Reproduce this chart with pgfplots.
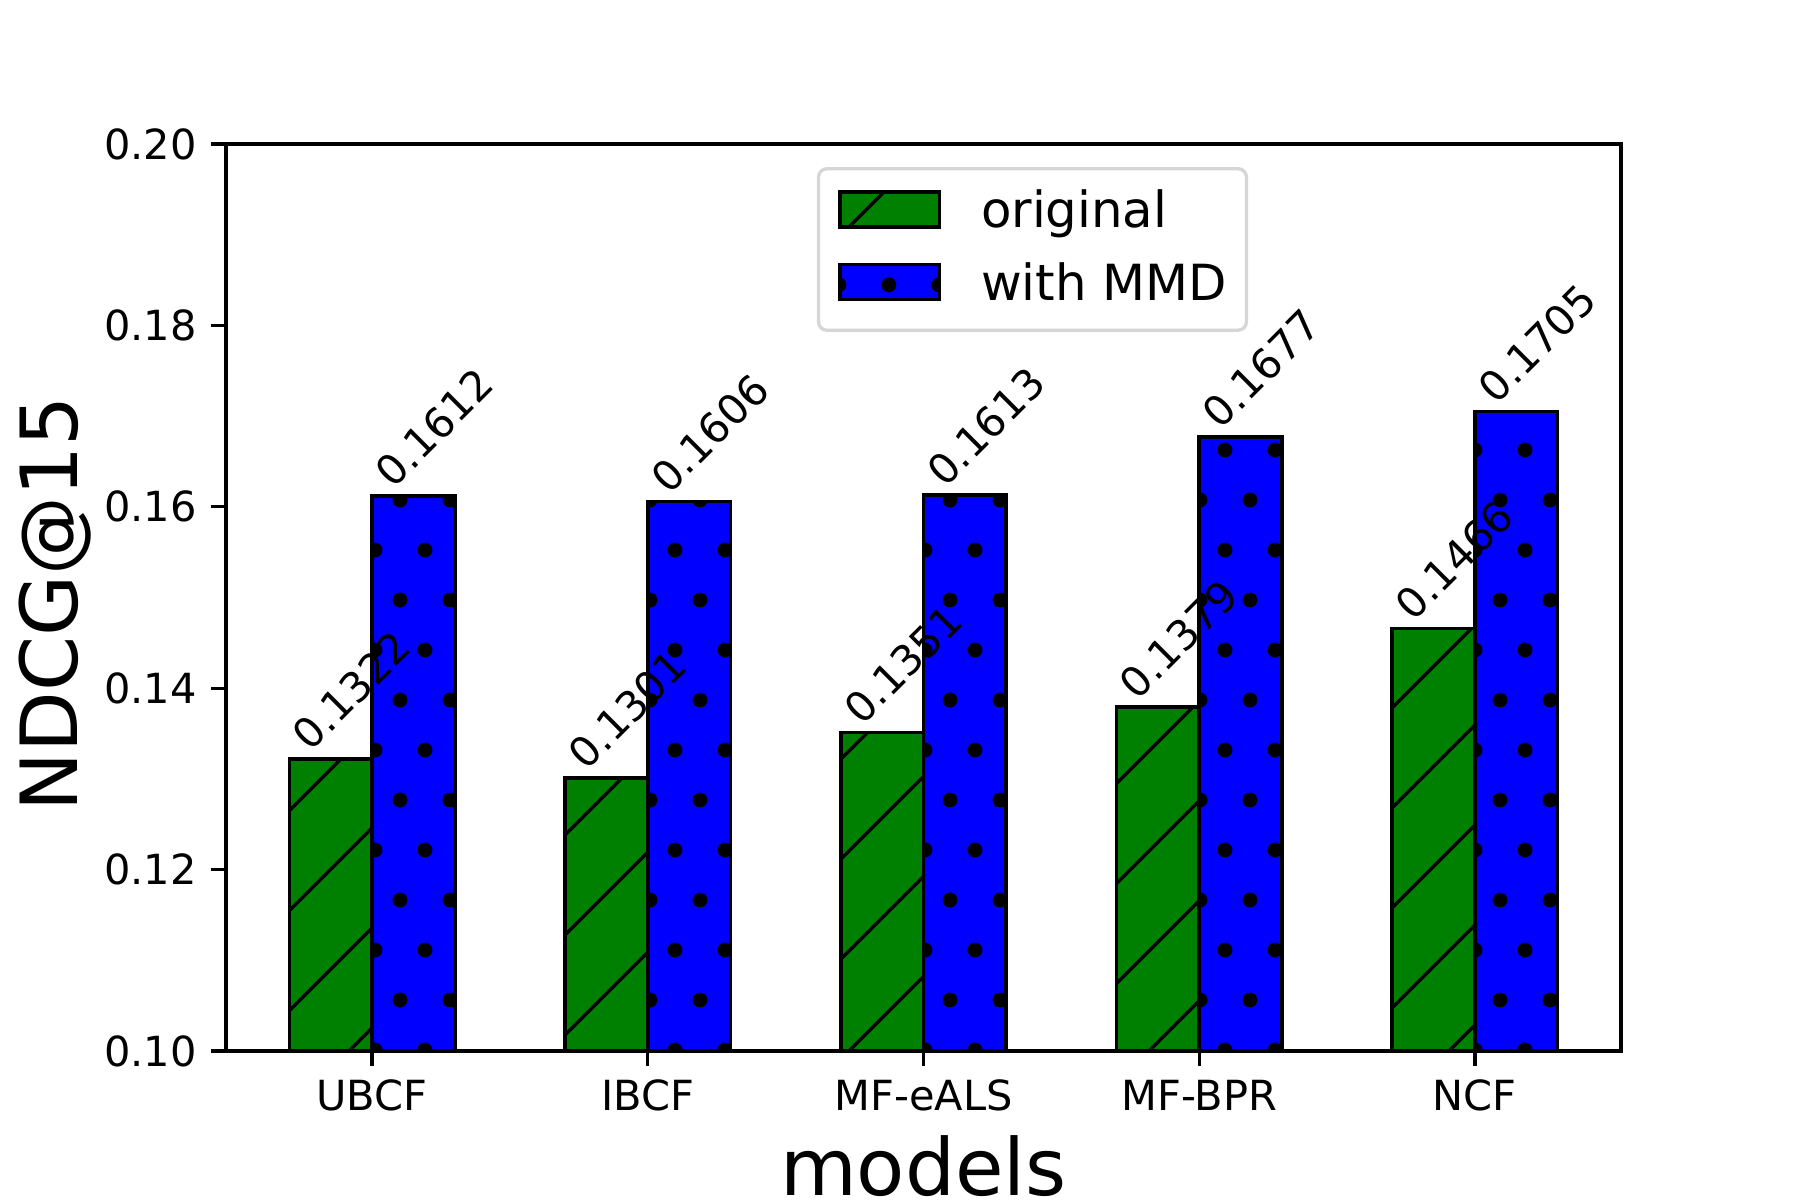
\documentclass[border=0pt]{standalone}
\usepackage{fontspec}
\setmainfont{DejaVu Sans}
\usepackage{pgfplots}
\pgfplotsset{compat=1.18}
\usepackage{pgfplotstable}

\definecolor{mplgreen}{HTML}{008000}
\definecolor{mplblue}{HTML}{0000FF}
\definecolor{legendgray}{HTML}{D6D6D6}

% page offset of the axis lower-left corner (pt)
\def\axpagex{54.44}
\def\axpagey{35.9}

\newcommand{\getphase}{%
  \pgfplotspointdescriptionxy{0}{0}\pgfgetlastxy{\axx}{\axy}%
  \pgfmathsetmacro{\ox}{\axx-\axpagex}%
  \pgfmathsetmacro{\oy}{\axy-\axpagey}%
}

\newcommand{\hatchlines}{%
  \getphase
  \pgfpointanchor{path picture bounding box}{south west}\pgfgetlastxy{\hxa}{\hya}%
  \pgfpointanchor{path picture bounding box}{north east}\pgfgetlastxy{\hxb}{\hyb}%
  \pgfmathsetmacro{\hph}{\oy-\ox}%
  \pgfmathtruncatemacro{\kmin}{floor((\hya-\hxb-\hph)/24.09)-1}%
  \pgfmathtruncatemacro{\kmax}{ceil((\hyb-\hxa-\hph)/24.09)+1}%
  \pgfmathsetmacro{\xs}{\hxa-3}%
  \pgfmathsetmacro{\xe}{\hxb+3}%
  \pgfsetlinewidth{0.8pt}\pgfsetstrokecolor{black}%
  \foreach \k in {\kmin,...,\kmax}{%
    \pgfmathsetmacro{\ys}{\xs+24.09*\k+\hph}%
    \pgfmathsetmacro{\ye}{\xe+24.09*\k+\hph}%
    \pgfpathmoveto{\pgfpoint{\xs pt}{\ys pt}}%
    \pgfpathlineto{\pgfpoint{\xe pt}{\ye pt}}%
    \pgfusepath{stroke}%
  }%
}

\newcommand{\hatchdots}{%
  \getphase
  \pgfpointanchor{path picture bounding box}{south west}\pgfgetlastxy{\hxa}{\hya}%
  \pgfpointanchor{path picture bounding box}{north east}\pgfgetlastxy{\hxb}{\hyb}%
  \pgfmathtruncatemacro{\imin}{floor((\hxa-\ox)/12.045)-1}%
  \pgfmathtruncatemacro{\imax}{ceil((\hxb-\ox)/12.045)+1}%
  \pgfmathtruncatemacro{\jmin}{floor((\hya-\oy)/24.09)-1}%
  \pgfmathtruncatemacro{\jmax}{ceil((\hyb-\oy)/24.09)+1}%
  \pgfsetfillcolor{black}%
  \foreach \i in {\imin,...,\imax}{%
    \foreach \j in {\jmin,...,\jmax}{%
      \pgfmathsetmacro{\px}{12.045*\i+\ox}%
      \pgfmathsetmacro{\py}{24.09*\j+\oy}%
      \pgfmathsetmacro{\qx}{\px+6.0225}%
      \pgfmathsetmacro{\qy}{\py+12.045}%
      \pgfpathcircle{\pgfpoint{\px pt}{\py pt}}{1.8pt}%
      \pgfpathcircle{\pgfpoint{\qx pt}{\qy pt}}{1.8pt}%
      \pgfusepath{fill}%
    }%
  }%
}

\pgfplotstableread{
x orig mmd
0 0.1322 0.1612
1 0.1301 0.1606
2 0.1351 0.1613
3 0.1379 0.1677
4 0.1466 0.1705
}\datatable

\begin{document}
\begin{tikzpicture}
\path[use as bounding box] (-54.44pt,-35.9pt) rectangle (379.18pt,253.18pt);
\begin{axis}[
  at={(0pt,0pt)}, anchor=south west,
  scale only axis,
  width=336.05pt, height=218.5pt,
  xmin=-0.53, xmax=4.53,
  ymin=0.10, ymax=0.20,
  xtick={0,1,2,3,4},
  xticklabels={UBCF,IBCF,MF-eALS,MF-BPR,NCF},
  ytick={0.10,0.12,0.14,0.16,0.18,0.20},
  yticklabel={\pgfmathprintnumber[fixed,fixed zerofill,precision=2]{\tick}},
  /pgf/number format/assume math mode=true,
  scaled y ticks=false,
  xtick pos=lower, ytick pos=left,
  tick align=outside,
  major tick length=3.5pt,
  every tick/.style={black, line width=0.8pt},
  axis line style={line width=0.8pt},
  axis on top,
  tick label style={font=\fontsize{10}{12}\selectfont},
  xlabel={models},
  ylabel={NDCG@15},
  xlabel style={at={(rel axis cs:0.5,-0.1595)}, anchor=base, inner sep=0pt, font=\fontsize{19}{23}\selectfont},
  ylabel style={at={(rel axis cs:-0.1064,0.493)}, anchor=base, inner sep=0pt, font=\fontsize{19}{23}\selectfont},
  legend style={at={(0.4236,0.9745)}, anchor=north west, draw=legendgray, line width=0.8pt,
    rounded corners=2pt, fill=white, font=\fontsize{12}{14.4}\selectfont,
    inner xsep=4.7pt, inner ysep=4.6pt, column sep=9.6pt, row sep=5.3pt,
    nodes={inner sep=0pt, text height=9.6pt, text depth=2.6pt},
    cells={anchor=base west}},
  legend cell align=left,
  mylegend/.style={legend image code/.code={\draw[##1, sharp corners] (0pt,-3.3pt) rectangle (24pt,5.1pt);}},
]
\addplot[ybar, bar width=0.3, bar shift=-0.15, fill=mplgreen, draw=black, line width=0.85pt,
  path picture={\hatchlines},
  postaction={draw=black, line width=0.85pt}, mylegend]
  table[x=x, y=orig]{\datatable};
\addlegendentry{original}
\addplot[ybar, bar width=0.3, bar shift=0.15, fill=mplblue, draw=black, line width=0.85pt,
  path picture={\hatchdots},
  postaction={draw=black, line width=0.85pt}, mylegend]
  table[x=x, y=mmd]{\datatable};
\addlegendentry{with MMD}
\addplot[draw=none, mark=none, forget plot, nodes near coords, point meta=explicit symbolic,
  nodes near coords style={anchor=base west, rotate=45, inner sep=0pt, font=\fontsize{10}{12}\selectfont, text=black}]
  table[x expr=\thisrow{x}-0.3+0.076, y expr=\thisrow{orig}+0.0006, meta=orig]{\datatable};
\addplot[draw=none, mark=none, forget plot, nodes near coords, point meta=explicit symbolic,
  nodes near coords style={anchor=base west, rotate=45, inner sep=0pt, font=\fontsize{10}{12}\selectfont, text=black}]
  table[x expr=\thisrow{x}+0.076, y expr=\thisrow{mmd}+0.0006, meta=mmd]{\datatable};
\end{axis}
\end{tikzpicture}
\end{document}
